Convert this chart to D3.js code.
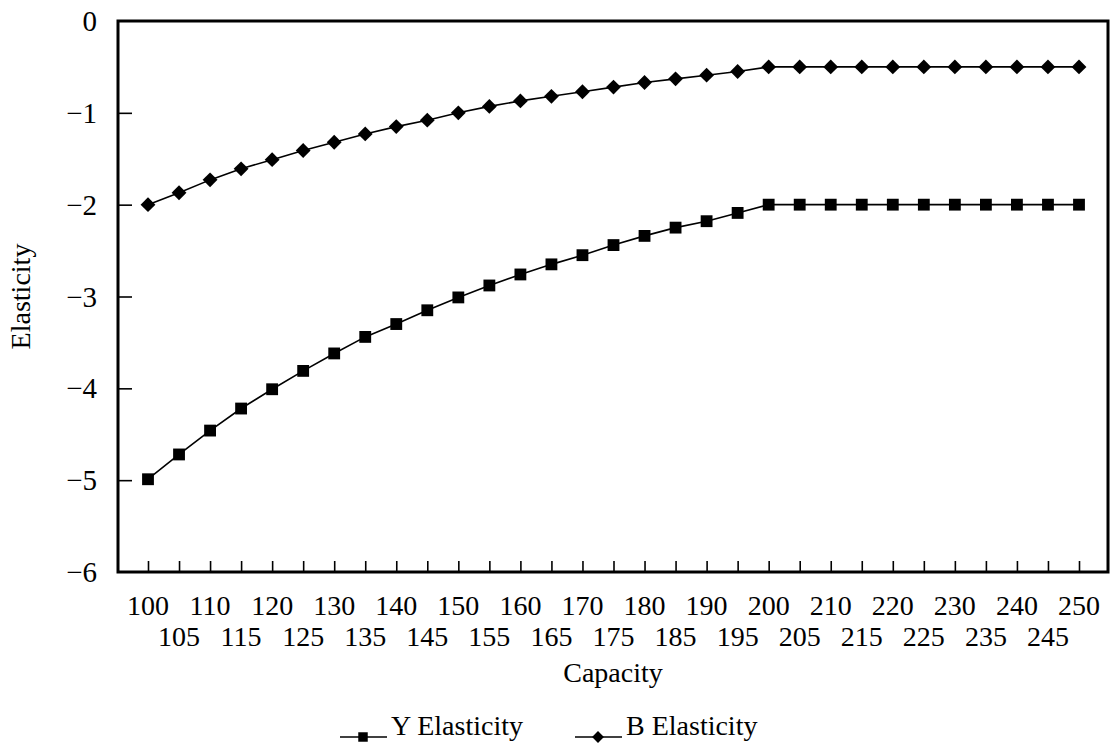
<!DOCTYPE html>
<html><head><meta charset="utf-8">
<script src="https://cdn.jsdelivr.net/npm/d3@7"></script>
<style>
html,body{margin:0;padding:0;background:#fff;}
svg{display:block;font-family:"Liberation Serif","Times New Roman",serif;}
</style></head>
<body><svg id="c" width="1111" height="746"></svg>
<script>
const capacity = [100,105,110,115,120,125,130,135,140,145,150,155,160,165,170,175,180,185,190,195,200,205,210,215,220,225,230,235,240,245,250];
const yElasticity = [-4.99,-4.72,-4.46,-4.22,-4.01,-3.81,-3.62,-3.44,-3.30,-3.15,-3.01,-2.88,-2.76,-2.65,-2.55,-2.44,-2.34,-2.25,-2.18,-2.09,-2.0,-2.0,-2.0,-2.0,-2.0,-2.0,-2.0,-2.0,-2.0,-2.0,-2.0];
const bElasticity = [-2.0,-1.87,-1.73,-1.61,-1.51,-1.41,-1.32,-1.23,-1.15,-1.08,-1.0,-0.93,-0.87,-0.82,-0.77,-0.72,-0.67,-0.63,-0.59,-0.55,-0.5,-0.5,-0.5,-0.5,-0.5,-0.5,-0.5,-0.5,-0.5,-0.5,-0.5];
const yTicks = [0,-1,-2,-3,-4,-5,-6];
const seriesNames = ["Y Elasticity","B Elasticity"];
const xTitle = "Capacity", yTitle = "Elasticity";

const svg = d3.select("#c");
const L = 118, R = 1108, T = 21, B = 572;
const x = d3.scaleLinear().domain([100,250]).range([148,1079]);
const y = d3.scaleLinear().domain([-6,0]).range([B,T]);
const fs = 28;

// y axis ticks (inward)
const yAxis = d3.axisRight(y).tickValues(yTicks.filter(v=>v!==0&&v!==-6)).tickSize(14).tickFormat("");
const ga = svg.append("g").attr("transform",`translate(${L},0)`).call(yAxis);
ga.select(".domain").remove();
ga.selectAll("line").attr("stroke","#000").attr("stroke-width",1.6);
svg.append("g").selectAll("text").data(yTicks).join("text")
  .attr("x",97).attr("y",d=>y(d)+10).attr("text-anchor","end")
  .attr("font-size",29).text(d=>d3.format("d")(d));

// x axis ticks (inward)
const xAxis = d3.axisTop(x).tickValues(capacity).tickSize(11).tickFormat("");
const gx = svg.append("g").attr("transform",`translate(0,${B})`).call(xAxis);
gx.select(".domain").remove();
gx.selectAll("line").attr("stroke","#000").attr("stroke-width",1.6);
svg.append("g").selectAll("text").data(capacity).join("text")
  .attr("x",d=>x(d)).attr("y",(d,i)=> i%2===0 ? 615 : 646).attr("text-anchor","middle")
  .attr("font-size",fs).text(d=>d);

// frame
svg.append("rect").attr("x",L).attr("y",T).attr("width",R-L).attr("height",B-T)
  .attr("fill","none").attr("stroke","#000").attr("stroke-width",3);

// titles
svg.append("text").attr("x",(L+R)/2).attr("y",682).attr("text-anchor","middle").attr("font-size",fs).text(xTitle);
svg.append("text").attr("transform",`translate(30,${(T+B)/2}) rotate(-90)`).attr("text-anchor","middle").attr("font-size",fs).text(yTitle);

const line = d3.line().x((d,i)=>x(capacity[i])).y(d=>y(d));
const sq = d3.symbol().type(d3.symbolSquare).size(140);
const dm = d3.symbol().type(d3.symbolSquare).size(110);

[[yElasticity,sq,0],[bElasticity,dm,45]].forEach(([vals,sym,rot])=>{
  svg.append("path").datum(vals).attr("d",line).attr("fill","none").attr("stroke","#000").attr("stroke-width",1.6);
  svg.append("g").selectAll("path").data(vals).join("path")
    .attr("transform",(d,i)=>`translate(${x(capacity[i])},${y(d)}) rotate(${rot})`).attr("d",sym).attr("fill","#000");
});

// legend
const sqL = d3.symbol().type(d3.symbolSquare).size(90);
const dmL = d3.symbol().type(d3.symbolSquare).size(70);
const leg = [{name:seriesNames[0],sym:sqL,rot:0,x0:340},{name:seriesNames[1],sym:dmL,rot:45,x0:575}];
const ly = 737;
leg.forEach(l=>{
  svg.append("line").attr("x1",l.x0).attr("x2",l.x0+47).attr("y1",ly).attr("y2",ly).attr("stroke","#000").attr("stroke-width",1.6);
  svg.append("path").attr("transform",`translate(${l.x0+23},${ly}) rotate(${l.rot})`).attr("d",l.sym).attr("fill","#000");
  svg.append("text").attr("x",l.x0+51).attr("y",735).attr("font-size",fs).text(l.name);
});
</script></body></html>
